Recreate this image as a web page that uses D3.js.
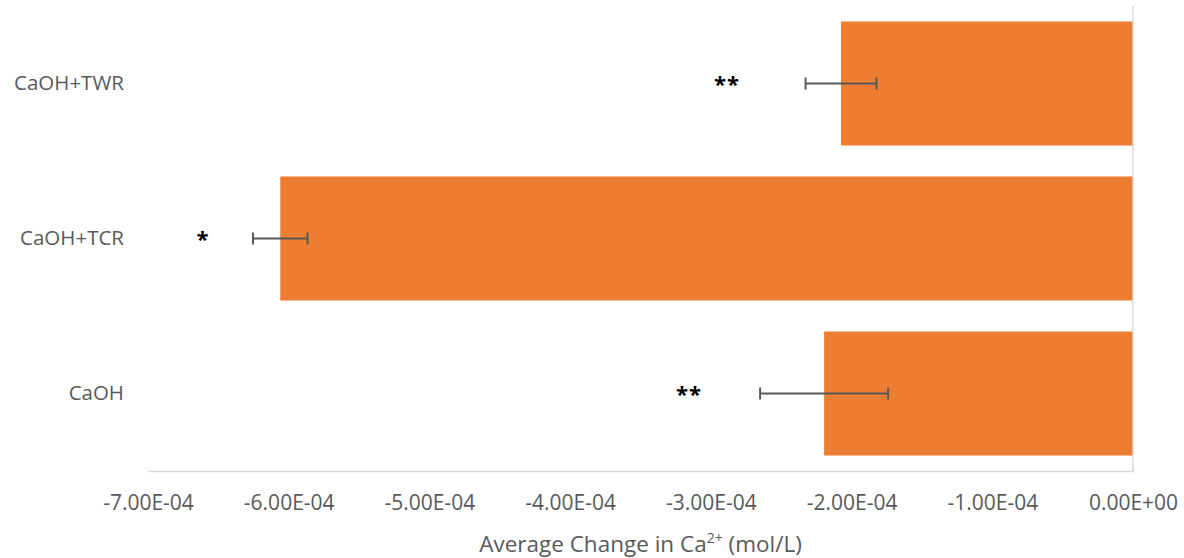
<!DOCTYPE html>
<html>
  <head>
    <script src="https://d3js.org/d3.v7.min.js"></script>
    <style>
      body { margin: 0; background: #fff; }
      text { font-family: "Open Sans", "Liberation Sans", sans-serif; }
    </style>
  </head>
  <body>
    <div id="chart"></div>

    <script>
      // data
      const categories = ["CaOH+TWR", "CaOH+TCR", "CaOH"];
      const changes = [-2.075e-4, -6.06e-4, -2.195e-4];
      const errors = [2.52e-5, 1.94e-5, 4.55e-5];
      const stars = ["**", "*", "**"];
      const starPos = [-2.885e-4, -6.61e-4, -3.155e-4];
      const ticks = [-7e-4, -6e-4, -5e-4, -4e-4, -3e-4, -2e-4, -1e-4, 0];

      const data = categories.map((c, i) => ({
        cat: c, value: changes[i], err: errors[i], star: stars[i], starX: starPos[i]
      }));

      const width = 1184;
      const height = 558;
      const margin = { top: 6, right: 51, bottom: 87, left: 148 };
      const innerW = width - margin.left - margin.right;
      const innerH = height - margin.top - margin.bottom;

      const svg = d3.select("#chart")
        .append("svg")
        .attr("width", width)
        .attr("height", height);
      const chart = svg.append("g")
        .attr("transform", `translate(${margin.left}, ${margin.top})`);

      const xScale = d3.scaleLinear()
        .domain([-7e-4, 0])
        .range([0, innerW]);
      const yScale = d3.scaleBand()
        .domain(categories)
        .range([0, innerH])
        .paddingInner(0.2)
        .paddingOuter(0.1);

      function sci(v) {
        if (v === 0) return "0.00E+00";
        const parts = v.toExponential(2).toUpperCase().split("E");
        const exp = parseInt(parts[1], 10);
        const sign = exp < 0 ? "-" : "+";
        return parts[0] + "E" + sign + String(Math.abs(exp)).padStart(2, "0");
      }

      // bars
      chart.selectAll(".bar")
        .data(data)
        .enter()
        .append("rect")
        .attr("class", "bar")
        .attr("x", d => xScale(d.value))
        .attr("y", d => yScale(d.cat))
        .attr("width", d => xScale(0) - xScale(d.value))
        .attr("height", yScale.bandwidth())
        .attr("fill", "#ED7D31");

      // zero line (category axis)
      chart.append("line")
        .attr("x1", xScale(0)).attr("x2", xScale(0))
        .attr("y1", 0).attr("y2", innerH)
        .attr("stroke", "#d9d9d9")
        .attr("stroke-width", 1.5);

      // x axis
      const xAxis = chart.append("g")
        .attr("class", "x-axis")
        .attr("transform", `translate(0, ${innerH})`)
        .call(d3.axisBottom(xScale).tickValues(ticks).tickFormat(sci).tickSize(0).tickPadding(24));
      xAxis.select(".domain").attr("stroke", "#d9d9d9").attr("stroke-width", 1.5);
      xAxis.selectAll("text")
        .attr("fill", "#595959")
        .style("font-size", "21px");

      // category labels
      const yAxis = chart.append("g")
        .attr("class", "y-axis")
        .call(d3.axisLeft(yScale).tickSize(0).tickPadding(24));
      yAxis.select(".domain").remove();
      yAxis.selectAll("text")
        .attr("fill", "#595959")
        .style("font-size", "20.5px");

      // error bars
      const cap = 6;
      const eb = chart.selectAll(".err")
        .data(data)
        .enter()
        .append("g")
        .attr("class", "err")
        .attr("stroke", "#595959")
        .attr("stroke-width", 2);
      eb.append("line")
        .attr("x1", d => xScale(d.value - d.err))
        .attr("x2", d => xScale(d.value + d.err))
        .attr("y1", d => yScale(d.cat) + yScale.bandwidth() / 2)
        .attr("y2", d => yScale(d.cat) + yScale.bandwidth() / 2);
      eb.append("line")
        .attr("x1", d => xScale(d.value - d.err))
        .attr("x2", d => xScale(d.value - d.err))
        .attr("y1", d => yScale(d.cat) + yScale.bandwidth() / 2 - cap)
        .attr("y2", d => yScale(d.cat) + yScale.bandwidth() / 2 + cap);
      eb.append("line")
        .attr("x1", d => xScale(d.value + d.err))
        .attr("x2", d => xScale(d.value + d.err))
        .attr("y1", d => yScale(d.cat) + yScale.bandwidth() / 2 - cap)
        .attr("y2", d => yScale(d.cat) + yScale.bandwidth() / 2 + cap);

      // significance stars
      chart.selectAll(".star")
        .data(data)
        .enter()
        .append("text")
        .attr("class", "star")
        .attr("x", d => xScale(d.starX))
        .attr("y", d => yScale(d.cat) + yScale.bandwidth() / 2 + 8)
        .attr("text-anchor", "middle")
        .attr("fill", "#000")
        .style("font-size", "22px")
        .style("font-weight", "bold")
        .style("letter-spacing", "1px")
        .text(d => d.star);

      // axis title
      const title = svg.append("text")
        .attr("x", margin.left + innerW / 2)
        .attr("y", height - 6)
        .attr("text-anchor", "middle")
        .attr("fill", "#595959")
        .style("font-size", "22.5px");
      title.append("tspan").text("Average Change in Ca");
      title.append("tspan").attr("dy", -9).style("font-size", "14px").text("2+");
      title.append("tspan").attr("dy", 9).text(" (mol/L)");
    </script>
  </body>
</html>
